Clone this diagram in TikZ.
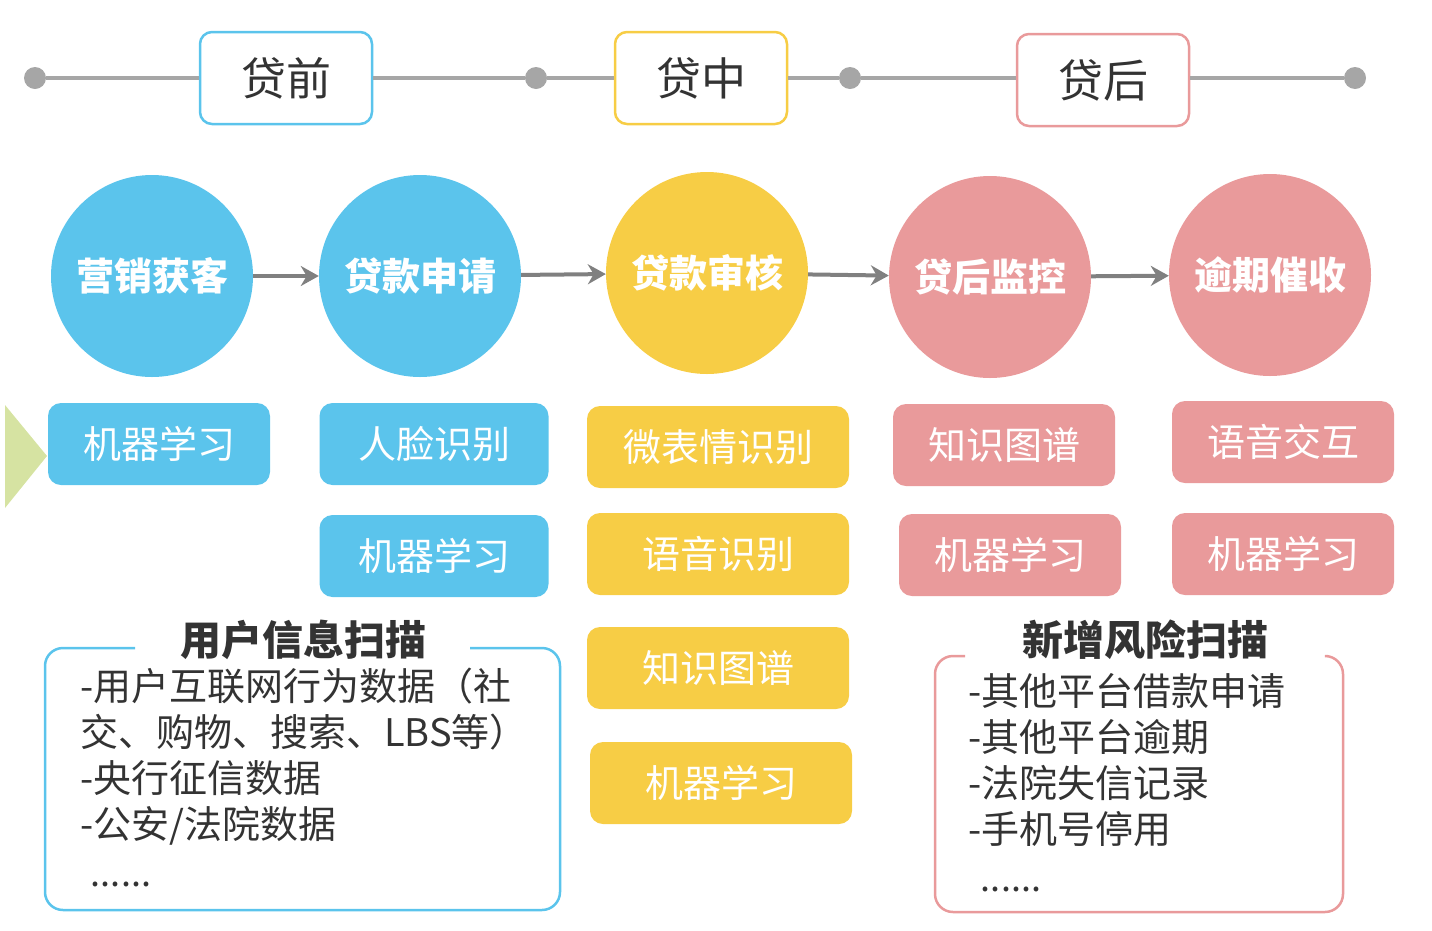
\documentclass[tikz,border=0pt]{standalone}
\usepackage{fontspec}
\setmainfont{Noto Sans CJK SC}
\usetikzlibrary{arrows.meta}
\definecolor{cblue}{HTML}{5BC4EC}
\definecolor{cyellow}{HTML}{F7CD45}
\definecolor{cpink}{HTML}{E99A9B}
\definecolor{cline}{HTML}{A6A6A6}
\definecolor{carrow}{HTML}{808080}
\definecolor{cgreen}{HTML}{D6E3A2}
\definecolor{ctext}{HTML}{333333}
\begin{document}
\begin{tikzpicture}[x=1pt,y=-1pt,
  dot/.style={circle,fill=cline,minimum size=22pt,inner sep=0pt},
  phase/.style={draw=#1,line width=2.5pt,fill=white,rounded corners=12pt,minimum width=172pt,minimum height=92pt,text=ctext,font=\fontsize{45}{50}\selectfont},
  stage/.style={circle,fill=#1,minimum size=202pt,inner sep=0pt,text=white,font=\bfseries\fontsize{38}{42}\selectfont},
  tbox/.style={fill=#1,rounded corners=13pt,minimum height=82pt,inner sep=0pt,text=white,font=\fontsize{38}{42}\selectfont},
  flow/.style={draw=carrow,line width=4pt,-{Stealth[length=18pt,width=20pt]}},
  tline/.style={draw=cline,line width=4pt},
  ptitle/.style={text=ctext,font=\bfseries\fontsize{41}{46}\selectfont},
  pbody/.style={text=ctext,anchor=north west,align=left,inner sep=0pt,font=\fontsize{38}{46}\selectfont},
  pdots/.style={text=ctext,inner sep=0pt,font=\fontsize{36}{40}\selectfont},
  pframe/.style={draw=#1,line width=2.5pt,rounded corners=18pt}]
\useasboundingbox (0,0) rectangle (1432,930);
% timeline
\node[dot] (d1) at (35,78) {};
\node[dot] (d2) at (536,78) {};
\node[dot] (d3) at (850,78) {};
\node[dot] (d4) at (1355,78) {};
\node[phase=cblue] (p1) at (286,78) {贷前};
\node[phase=cyellow] (p2) at (701,78) {贷中};
\node[phase=cpink] (p3) at (1103,80) {贷后};
\draw[tline] (d1) -- (p1) -- (d2) -- (p2) -- (d3);
\draw[tline] (d3) -- (p3.west |- d3);
\draw[tline] (p3.east |- d4) -- (d4);
% stages
\node[stage=cblue] (s1) at (152,276) {营销获客};
\node[stage=cblue] (s2) at (420,276) {贷款申请};
\node[stage=cyellow] (s3) at (707,273) {贷款审核};
\node[stage=cpink] (s4) at (990,277) {贷后监控};
\node[stage=cpink] (s5) at (1270,275) {逾期催收};
\draw[flow] (s1) -- (s2);
\draw[flow] (s2) -- (s3);
\draw[flow] (s3) -- (s4);
\draw[flow] (s4) -- (s5);
% green marker
\fill[cgreen] (5,405) -- (47,456) -- (5,508) -- cycle;
% boxes
\node[tbox=cblue,minimum width=222pt] (b1) at (159,444) {机器学习};
\node[tbox=cblue,minimum width=229pt] (b2) at (434,444) {人脸识别};
\node[tbox=cblue,minimum width=229pt] (b3) at (434,556) {机器学习};
\node[tbox=cyellow,minimum width=262pt] (y1) at (718,447) {微表情识别};
\node[tbox=cyellow,minimum width=262pt] (y2) at (718,554) {语音识别};
\node[tbox=cyellow,minimum width=262pt] (y3) at (718,668) {知识图谱};
\node[tbox=cyellow,minimum width=262pt] (y4) at (721,783) {机器学习};
\node[tbox=cpink,minimum width=222pt] (k1) at (1004,445) {知识图谱};
\node[tbox=cpink,minimum width=222pt] (k2) at (1010,555) {机器学习};
\node[tbox=cpink,minimum width=222pt] (k3) at (1283,442) {语音交互};
\node[tbox=cpink,minimum width=222pt] (k4) at (1283,554) {机器学习};
% left panel
\draw[pframe=cblue] (135,648) -- (45,648) -- (45,910) -- (560,910) -- (560,648) -- (470,648);
\node[ptitle] (t1) at (303,640) {用户信息扫描};
\node[pbody] (l1) at (80,668) {-用户互联网行为数据（社\\交、购物、搜索、LBS等）\\-央行征信数据\\-公安/法院数据};
\node[pdots] (l2) at (121,884) {......};
% right panel
\draw[pframe=cpink] (965,656) -- (935,656) -- (935,912) -- (1343,912) -- (1343,656) -- (1328,656);
\node[ptitle] (t2) at (1145,640) {新增风险扫描};
\node[pbody] (r1) at (968,673) {-其他平台借款申请\\-其他平台逾期\\-法院失信记录\\-手机号停用};
\node[pdots] (r2) at (1011,889) {......};
\end{tikzpicture}
\end{document}
